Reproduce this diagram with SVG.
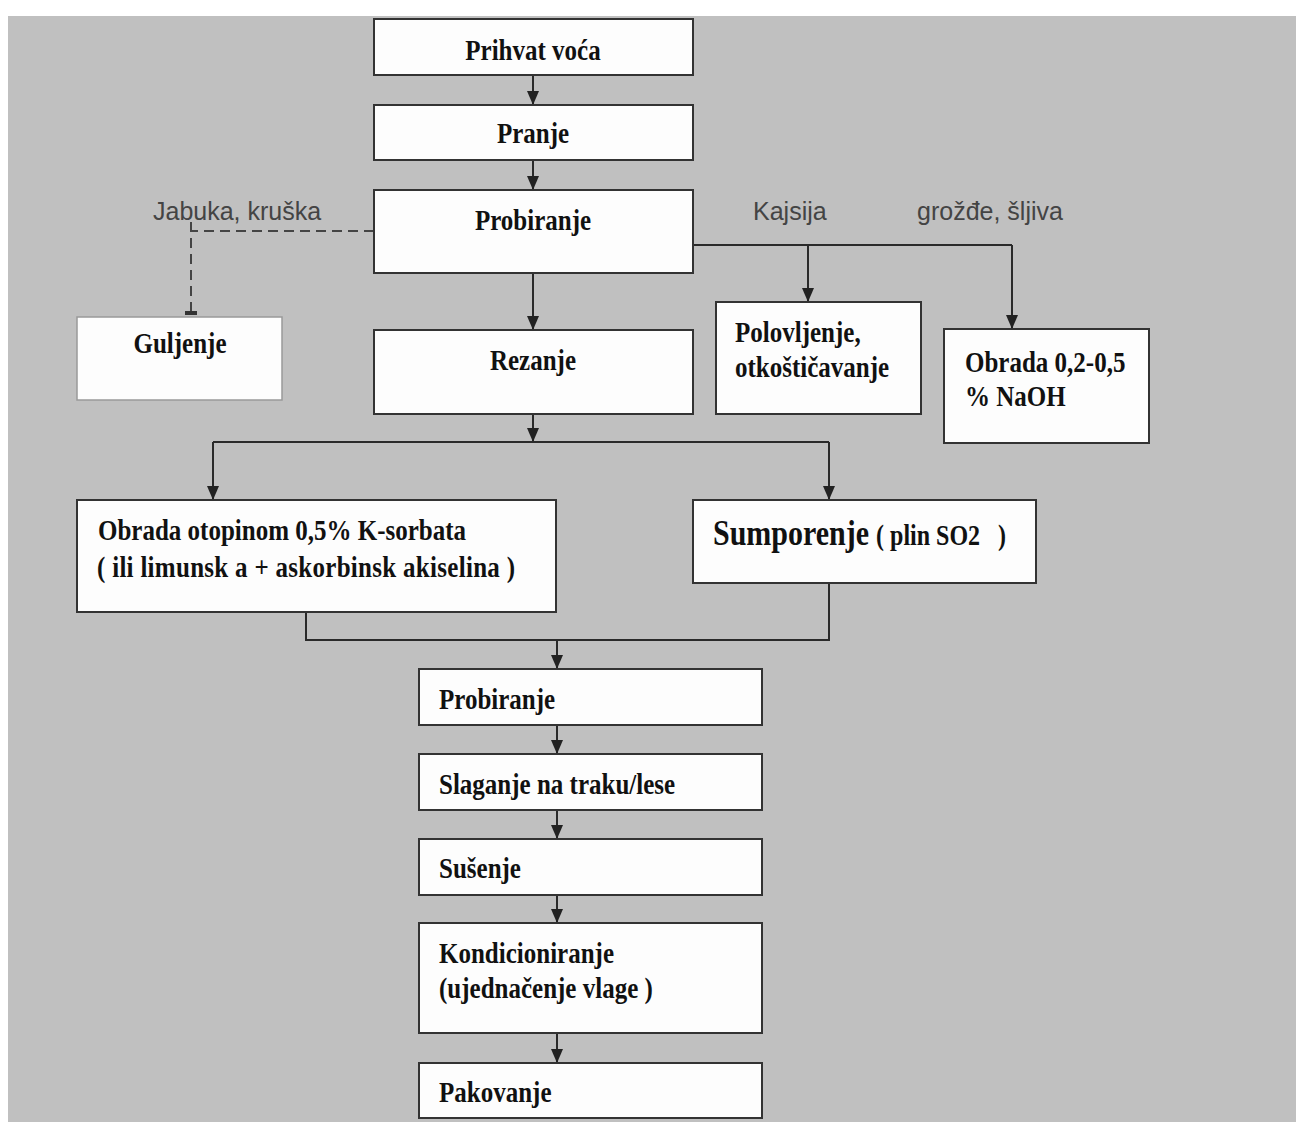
<svg xmlns="http://www.w3.org/2000/svg" width="1296" height="1122" viewBox="0 0 1296 1122">
<defs>
<marker id="arr" markerUnits="userSpaceOnUse" markerWidth="14" markerHeight="12" refX="14" refY="6" orient="auto">
<path d="M0,0 L14,6 L0,12 z" fill="#222"/>
</marker>
</defs>
<style>
.box{fill:#fdfdfd;stroke:#333;stroke-width:2}
.boxl{fill:#fdfdfd;stroke:#999;stroke-width:1.5}
.b{font-family:"Liberation Serif","Times New Roman",serif;font-weight:bold;font-size:25px;fill:#111}
.s{font-family:"Liberation Sans",Arial,sans-serif;font-size:25px;fill:#444}
.ln{fill:none;stroke:#2a2a2a;stroke-width:2}
.dash{fill:none;stroke:#444;stroke-width:2;stroke-dasharray:10 6}
</style>
<rect x="0" y="0" width="1296" height="1122" fill="#fff"/>
<rect x="8" y="16" width="1288" height="1106" fill="#c0c0c0"/>

<g id="connectors">
<path class="ln" d="M533,75 V105" marker-end="url(#arr)"/>
<path class="ln" d="M533,160 V190" marker-end="url(#arr)"/>
<path class="ln" d="M533,273 V330" marker-end="url(#arr)"/>
<path class="dash" d="M374,231 H191"/>
<path class="dash" d="M191,222 V312"/>
<rect x="185" y="311" width="12" height="4" fill="#333"/>
<path class="ln" d="M693,245 H1012"/>
<path class="ln" d="M808,245 V302" marker-end="url(#arr)"/>
<path class="ln" d="M1012,245 V329" marker-end="url(#arr)"/>
<path class="ln" d="M533,414 V442" marker-end="url(#arr)"/>
<path class="ln" d="M213,442 H829"/>
<path class="ln" d="M213,442 V500" marker-end="url(#arr)"/>
<path class="ln" d="M829,442 V500" marker-end="url(#arr)"/>
<path class="ln" d="M306,612 V640 H829 V583"/>
<path class="ln" d="M557,640 V669" marker-end="url(#arr)"/>
<path class="ln" d="M557,725 V754" marker-end="url(#arr)"/>
<path class="ln" d="M557,810 V839" marker-end="url(#arr)"/>
<path class="ln" d="M557,895 V923" marker-end="url(#arr)"/>
<path class="ln" d="M557,1033 V1063" marker-end="url(#arr)"/>
</g>

<g id="labels">
<text class="s" x="153" y="220">Jabuka, kruška</text>
<text class="s" x="753" y="220">Kajsija</text>
<text class="s" x="917" y="220">grožđe, šljiva</text>
</g>

<g id="n-prihvat">
<rect class="box" x="374" y="19" width="319" height="56"/>
<text class="b" text-anchor="middle" transform="translate(533 60) scale(1 1.2)">Prihvat voća</text>
</g>
<g id="n-pranje">
<rect class="box" x="374" y="105" width="319" height="55"/>
<text class="b" text-anchor="middle" transform="translate(533 143) scale(1 1.2)">Pranje</text>
</g>
<g id="n-probiranje1">
<rect class="box" x="374" y="190" width="319" height="83"/>
<text class="b" text-anchor="middle" transform="translate(533 230) scale(1 1.2)">Probiranje</text>
</g>
<g id="n-guljenje">
<rect class="boxl" x="77" y="317" width="205" height="83"/>
<text class="b" text-anchor="middle" transform="translate(180 353) scale(1 1.2)">Guljenje</text>
</g>
<g id="n-rezanje">
<rect class="box" x="374" y="330" width="319" height="84"/>
<text class="b" text-anchor="middle" transform="translate(533 370) scale(1 1.2)">Rezanje</text>
</g>
<g id="n-polovljenje">
<rect class="box" x="716" y="302" width="205" height="112"/>
<text class="b" transform="translate(735 342) scale(1 1.2)">Polovljenje,</text>
<text class="b" transform="translate(735 377) scale(1 1.2)">otkoštičavanje</text>
</g>
<g id="n-naoh">
<rect class="box" x="944" y="329" width="205" height="114"/>
<text class="b" transform="translate(965 372) scale(1 1.2)">Obrada 0,2-0,5</text>
<text class="b" transform="translate(965 406) scale(1 1.2)">% NaOH</text>
</g>
<g id="n-sorbat">
<rect class="box" x="77" y="500" width="479" height="112"/>
<text class="b" transform="translate(98 540) scale(1 1.2)">Obrada otopinom 0,5% K-sorbata</text>
<text class="b" textLength="418" lengthAdjust="spacing" transform="translate(97 577) scale(1 1.2)">( ili limunsk a + askorbinsk akiselina )</text>
</g>
<g id="n-sumporenje">
<rect class="box" x="693" y="500" width="343" height="83"/>
<text class="b" transform="translate(713 545) scale(1 1.2)"><tspan font-size="30">Sumporenje</tspan><tspan font-size="24" dx="7">( plin SO2</tspan><tspan font-size="24" dx="18">)</tspan></text>
</g>
<g id="n-probiranje2">
<rect class="box" x="419" y="669" width="343" height="56"/>
<text class="b" transform="translate(439 709) scale(1 1.2)">Probiranje</text>
</g>
<g id="n-slaganje">
<rect class="box" x="419" y="754" width="343" height="56"/>
<text class="b" transform="translate(439 794) scale(1 1.2)">Slaganje na traku/lese</text>
</g>
<g id="n-susenje">
<rect class="box" x="419" y="839" width="343" height="56"/>
<text class="b" transform="translate(439 878) scale(1 1.2)">Sušenje</text>
</g>
<g id="n-kondicioniranje">
<rect class="box" x="419" y="923" width="343" height="110"/>
<text class="b" transform="translate(439 963) scale(1 1.2)">Kondicioniranje</text>
<text class="b" transform="translate(439 998) scale(1 1.2)">(ujednačenje vlage )</text>
</g>
<g id="n-pakovanje">
<rect class="box" x="419" y="1063" width="343" height="55"/>
<text class="b" transform="translate(439 1102) scale(1 1.2)">Pakovanje</text>
</g>
</svg>
